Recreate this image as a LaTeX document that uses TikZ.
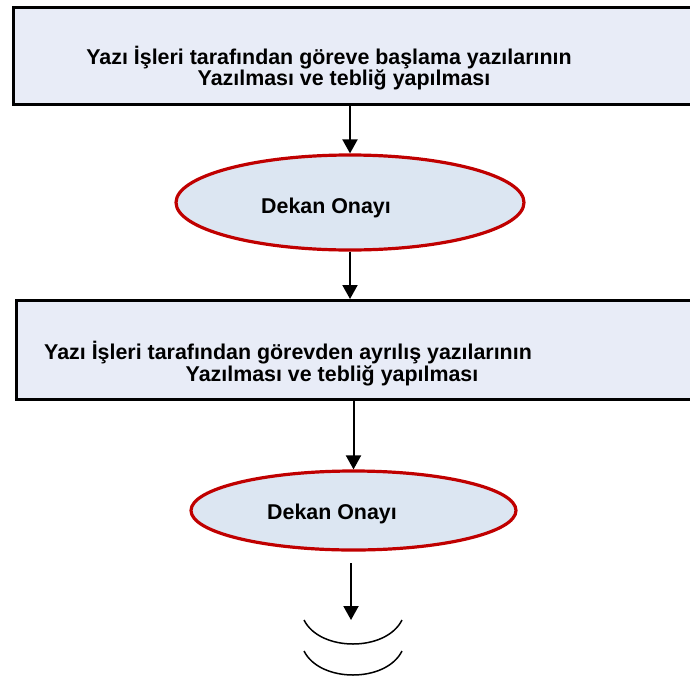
\documentclass[tikz,border=0pt]{standalone}
\usepackage{fontspec}
\setmainfont{Liberation Sans}
\usetikzlibrary{shapes.geometric,arrows.meta}
\definecolor{taskfill}{HTML}{E8ECF7}
\definecolor{approvalfill}{HTML}{DCE6F2}
\definecolor{approvalred}{HTML}{C00000}

\begin{document}
\begin{tikzpicture}[x=1pt,y=-1pt,
    task/.style={rectangle,draw=black,line width=2.5pt,fill=taskfill,inner sep=0pt,anchor=north west},
    approval/.style={ellipse,draw=approvalred,line width=3.2pt,fill=approvalfill,inner sep=0pt},
    label text/.style={font=\bfseries\fontsize{21.4}{22}\selectfont,inner sep=0pt,anchor=base},
    flow/.style={line width=2pt,-{Triangle[length=14pt,width=15pt]}}]
    \useasboundingbox (0,0) rectangle (690,680);
    \clip (0,0) rectangle (690,680);

    % Task: starting letters
    \node[task,minimum width=700pt,minimum height=97pt] (task1) at (12,6) {};
    \node[label text] (task1line1) at (329,64) {Yazı İşleri tarafından göreve başlama yazılarının};
    \node[label text] (task1line2) at (344,85) {Yazılması ve tebliğ yapılması};

    % First approval
    \node[approval,minimum width=348pt,minimum height=95pt] (approval1) at (350,202.5) {};
    \node[label text] (approval1text) at (326,213) {Dekan Onayı};

    % Task: leaving letters
    \node[task,minimum width=700pt,minimum height=99pt] (task2) at (15,299) {};
    \node[label text] (task2line1) at (288,359) {Yazı İşleri tarafından görevden ayrılış yazılarının};
    \node[label text] (task2line2) at (332,381) {Yazılması ve tebliğ yapılması};

    % Second approval
    \node[approval,minimum width=325pt,minimum height=79pt] (approval2) at (353.5,510.5) {};
    \node[label text] (approval2text) at (332,519) {Dekan Onayı};

    % Arrows
    \draw[flow] (task1.south -| approval1.north) -- (approval1.north);
    \draw[flow] (approval1.south) -- (approval1.south |- task2.north);
    \draw[flow] (task2.south -| approval2.north) -- (approval2.north);
    \coordinate (contFrom) at (351,563);
    \coordinate (contTo) at (351,620);
    \draw[flow] (contFrom) -- (contTo);

    % Continuation marks
    \draw[line width=1.5pt] (304,620) .. controls (320,652) and (386,652) .. (402,620);
    \draw[line width=1.5pt] (304,651) .. controls (320,683) and (386,683) .. (402,651);
\end{tikzpicture}
\end{document}
